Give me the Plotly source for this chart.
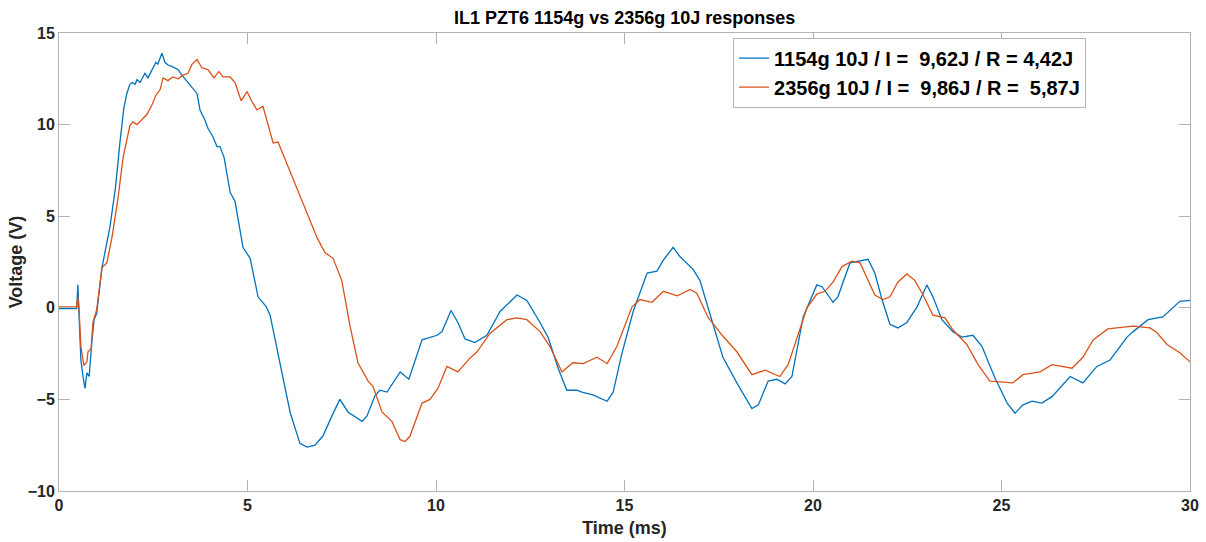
import plotly.graph_objects as go

# Impact responses of PZT6 sensor, 10 J drops with two impactor masses
t_1154 = [0.0, 0.3, 0.47, 0.5, 0.53, 0.58, 0.64, 0.69, 0.74, 0.8, 0.87, 0.93, 1.0, 1.09, 1.14,
          1.35, 1.5, 1.62, 1.72, 1.8, 1.88, 1.94, 2.02, 2.07, 2.15, 2.28, 2.36, 2.47, 2.57, 2.62, 2.73,
          2.81, 2.89, 3.02, 3.16, 3.26, 3.4, 3.53, 3.66, 3.74, 3.87, 3.95, 4.08, 4.19, 4.27,
          4.38, 4.54, 4.67, 4.88, 5.07, 5.28, 5.5, 5.6, 5.86, 6.13, 6.39, 6.58, 6.79, 7.0,
          7.24, 7.45, 7.67, 8.04, 8.17, 8.38, 8.51, 8.7, 9.05, 9.28, 9.63, 10.03, 10.16, 10.4,
          10.58, 10.77, 11.03, 11.35, 11.7, 12.15, 12.41, 12.76, 12.98, 13.24, 13.47, 13.74,
          13.87, 14.16, 14.54, 14.7, 14.93, 15.23, 15.6, 15.86, 16.03, 16.29, 16.47, 16.82,
          17.0, 17.32, 17.61, 17.98, 18.38, 18.55, 18.81, 19.04, 19.26, 19.44, 19.74, 20.1,
          20.24, 20.53, 20.66, 20.98, 21.25, 21.46, 21.64, 21.83, 22.04, 22.25, 22.49, 22.76,
          23.02, 23.18, 23.42, 23.71, 23.95, 24.24, 24.48, 24.83, 25.15, 25.36, 25.57, 25.81,
          26.07, 26.34, 26.82, 27.16, 27.53, 27.88, 28.33, 28.49, 28.89, 29.28, 29.73, 30.0]
v_1154 = [-0.05, -0.05, -0.05, 1.25, -0.1, -2.85, -3.8, -4.4, -3.55, -3.75, -1.9, -0.65, -0.3,
          1.15, 2.2, 4.4, 6.6, 9.1, 10.9, 11.7, 12.2, 12.3, 12.2, 12.45, 12.3, 12.8, 12.55, 13.0, 13.4,
          13.3, 13.9, 13.4, 13.25, 13.15, 13.0, 12.7, 12.35, 12.05, 11.7, 10.8, 10.25, 9.8,
          9.35, 8.8, 8.8, 8.2, 6.3, 5.8, 3.3, 2.7, 0.6, 0.05, -0.4, -3.0, -5.7, -7.4, -7.6,
          -7.5, -7.0, -5.9, -5.0, -5.7, -6.2, -5.9, -4.8, -4.5, -4.6, -3.5, -3.9, -1.75, -1.5,
          -1.3, -0.15, -0.8, -1.7, -1.9, -1.5, -0.2, 0.7, 0.4, -0.8, -1.65, -3.3, -4.5, -4.5,
          -4.6, -4.75, -5.1, -4.6, -2.5, -0.2, 1.9, 2.0, 2.6, 3.3, 2.8, 2.1, 1.5, -0.65, -2.7,
          -4.1, -5.5, -5.3, -4.0, -3.9, -4.15, -3.75, -0.5, 1.25, 1.15, 0.3, 0.6, 2.45, 2.55,
          2.65, 1.9, 0.45, -0.9, -1.1, -0.8, 0.05, 1.25, 0.6, -0.65, -1.3, -1.6, -1.5, -2.1,
          -3.85, -5.2, -5.75, -5.3, -5.1, -5.2, -4.85, -3.75, -4.1, -3.2, -2.85, -1.6, -1.3,
          -0.65, -0.5, 0.35, 0.4]

t_2356 = [0.0, 0.3, 0.47, 0.5, 0.53, 0.58, 0.66, 0.74, 0.77, 0.85, 0.9, 1.0, 1.09, 1.14, 1.27,
          1.41, 1.56, 1.7, 1.88, 1.96, 2.07, 2.2, 2.33, 2.47, 2.57, 2.68, 2.76, 2.89, 3.02,
          3.16, 3.29, 3.42, 3.53, 3.66, 3.79, 3.95, 4.11, 4.24, 4.35, 4.54, 4.67, 4.83, 4.99,
          5.12, 5.25, 5.41, 5.54, 5.68, 5.81, 5.97, 6.05, 6.25, 6.45, 6.66, 6.85, 7.06, 7.27, 7.5, 7.72,
          7.93, 8.2, 8.33, 8.57, 8.83, 9.05, 9.18, 9.31, 9.63, 9.84, 10.05, 10.29, 10.58, 10.9,
          11.09, 11.43, 11.88, 12.15, 12.41, 12.76, 13.02, 13.34, 13.63, 13.9, 14.27, 14.54,
          14.8, 15.2, 15.41, 15.73, 16.03, 16.4, 16.74, 16.92, 17.21, 17.59, 17.98, 18.38,
          18.73, 19.12, 19.34, 19.58, 19.84, 20.1, 20.32, 20.53, 20.77, 21.03, 21.25, 21.46,
          21.64, 21.86, 22.04, 22.25, 22.49, 22.7, 22.92, 23.18, 23.5, 23.71, 24.08, 24.38,
          24.69, 25.3, 25.57, 26.02, 26.34, 26.87, 27.16, 27.43, 27.82, 28.49, 28.94, 29.12,
          29.39, 29.73, 30.0]
v_2356 = [0.05, 0.05, 0.05, 0.6, 0.0, -2.1, -3.15, -2.95, -2.4, -2.25, -0.8, -0.1, 1.5, 2.2,
          2.45, 3.9, 5.9, 8.2, 9.95, 10.15, 10.0, 10.3, 10.55, 11.1, 11.6, 11.9, 12.55, 12.4,
          12.6, 12.5, 12.7, 12.8, 13.3, 13.55, 13.1, 13.0, 12.55, 12.9, 12.6, 12.6, 12.3, 11.3,
          11.8, 11.25, 10.8, 11.0, 10.1, 9.0, 9.05, 8.25, 7.9, 6.9, 5.9, 4.8, 3.8, 3.0, 2.7, 1.5, -1.0,
          -3.0, -4.0, -4.3, -5.7, -6.2, -7.2, -7.3, -7.0, -5.2, -5.0, -4.4, -3.2, -3.5, -2.75,
          -2.4, -1.4, -0.65, -0.55, -0.65, -1.3, -2.1, -3.5, -3.0, -3.05, -2.7, -3.05, -2.1,
          0.05, 0.45, 0.3, 0.9, 0.65, 1.0, 0.8, -0.5, -1.5, -2.4, -3.65, -3.4, -3.75, -3.1,
          -1.6, 0.0, 0.75, 0.9, 1.4, 2.25, 2.55, 2.45, 1.5, 0.7, 0.45, 0.6, 1.4, 1.85, 1.5, 0.7,
          -0.4, -0.55, -1.2, -2.0, -3.1, -4.0, -4.1, -3.65, -3.5, -3.1, -3.3, -2.7, -1.75,
          -1.15, -1.0, -1.1, -1.35, -2.0, -2.45, -2.95]

names = ["1154g 10J / I =  9,62J / R = 4,42J",
         "2356g 10J / I =  9,86J / R =  5,87J"]
colors = ["#0072BD", "#D95319"]

x_ticks = [0, 5, 10, 15, 20, 25, 30]
y_ticks = [-10, -5, 0, 5, 10, 15]

FONT = "Liberation Sans, Arial, sans-serif"
AXIS_GREY = "#b3b3b3"
TEXT = "#262626"

fig = go.Figure()
for t, v, name, c in zip([t_1154, t_2356], [v_1154, v_2356], names, colors):
    fig.add_trace(go.Scatter(
        x=t, y=v, mode="lines",
        name=name.replace("  ", " \u00a0"),
        line=dict(color=c, width=1.3),
    ))

axis_common = dict(
    showgrid=False, zeroline=False, showline=True, linecolor=AXIS_GREY,
    linewidth=1, mirror="ticks", ticks="inside", ticklen=11,
    tickcolor=AXIS_GREY, tickwidth=1,
    tickfont=dict(family=FONT, size=16, color=TEXT, weight="bold"),
)

fig.update_xaxes(range=[0, 30], tickvals=x_ticks,
                 title=dict(text="Time (ms)", standoff=8,
                            font=dict(family=FONT, size=18, color=TEXT, weight="bold")),
                 **axis_common)
fig.update_yaxes(range=[-10, 15], tickvals=y_ticks,
                 title=dict(text="Voltage (V)", standoff=0,
                            font=dict(family=FONT, size=18, color=TEXT, weight="bold")),
                 **axis_common)

fig.update_layout(
    width=1206, height=542,
    margin=dict(l=59, r=16, t=33, b=51, autoexpand=False),
    paper_bgcolor="white", plot_bgcolor="white",
    title=dict(text="IL1 PZT6 1154g vs 2356g 10J responses",
               x=0.518, xanchor="center", y=0.968, yanchor="middle",
               yref="container",
               font=dict(family=FONT, size=18, color="black", weight="bold")),
    legend=dict(x=0.596, y=0.99, xanchor="left", yanchor="top",
                bgcolor="white", bordercolor="#b3b3b3", borderwidth=1,
                itemwidth=30,
                font=dict(family=FONT, size=20, color="black", weight="bold")),
    showlegend=True,
)

fig.write_html("out.html")
